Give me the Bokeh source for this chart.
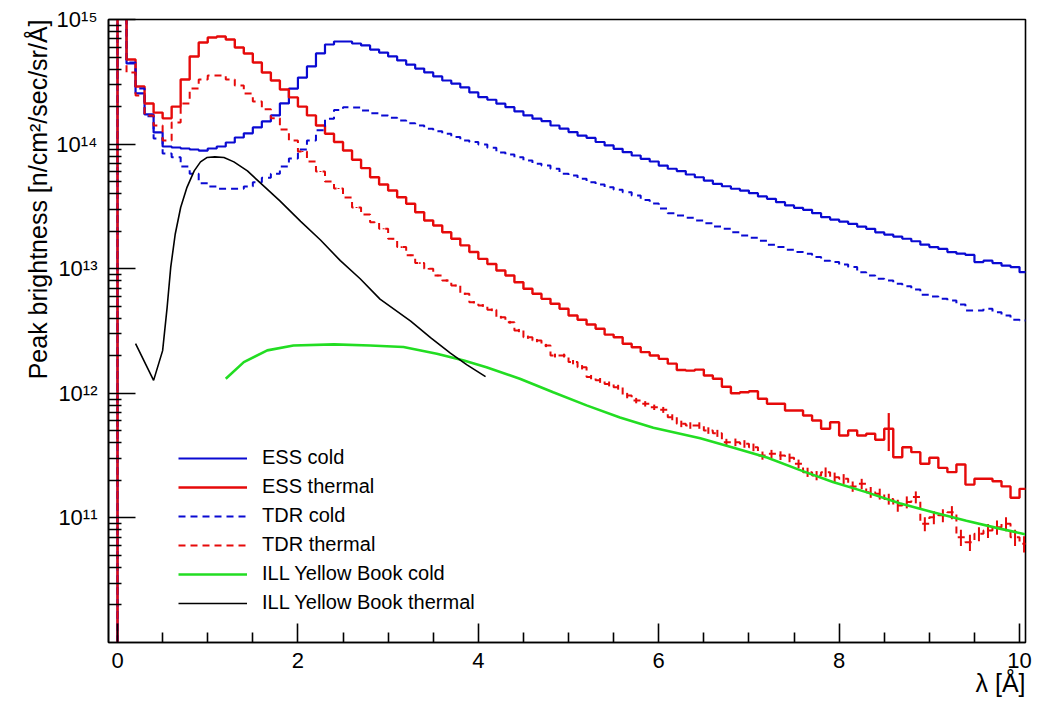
import math
from bokeh.plotting import figure
from bokeh.models import Range1d, FixedTicker, CustomJSTickFormatter, Legend, LegendItem, Title
from bokeh.embed import file_html
from bokeh.resources import INLINE

FONT = "Liberation Sans"

# ---------------- data ----------------
bin_width = 0.1
n_bins = 101          # bins [0.0,0.1], [0.1,0.2], ... , [10.0,10.1]

ess_cold = [
    5e15, 4.44e14, 2.55e14, 1.73e14, 1.24e14, 9.57e13, 9.39e13, 9.22e13, 9.05e13, 8.88e13,
    9.22e13, 9.57e13, 1.03e14, 1.13e14, 1.22e14, 1.36e14, 1.52e14, 1.70e14, 2.12e14, 2.79e14,
    3.42e14, 4.20e14, 5.34e14, 6.30e14, 6.66e14, 6.66e14, 6.42e14, 6.19e14, 5.74e14, 5.43e14,
    5.05e14, 4.69e14, 4.35e14, 4.04e14, 3.76e14, 3.49e14, 3.24e14, 3.06e14, 2.85e14, 2.60e14,
    2.38e14, 2.27e14, 2.11e14, 1.98e14, 1.83e14, 1.70e14, 1.60e14, 1.53e14, 1.41e14, 1.33e14,
    1.25e14, 1.17e14, 1.12e14, 1.04e14, 9.75e13, 9.17e13, 8.61e13, 8.10e13, 7.62e13, 7.25e13,
    6.73e13, 6.34e13, 6.08e13, 5.70e13, 5.42e13, 5.10e13, 4.80e13, 4.59e13, 4.38e13, 4.24e13,
    4.04e13, 3.80e13, 3.64e13, 3.42e13, 3.22e13, 3.08e13, 2.97e13, 2.79e13, 2.59e13, 2.48e13,
    2.39e13, 2.29e13, 2.18e13, 2.09e13, 1.96e13, 1.88e13, 1.81e13, 1.74e13, 1.66e13, 1.56e13,
    1.49e13, 1.44e13, 1.36e13, 1.32e13, 1.29e13, 1.13e13, 1.16e13, 1.11e13, 1.06e13, 1.03e13,
    9.37e12]

ess_thermal = [
    5e15, 4.78e14, 2.90e14, 2.12e14, 1.79e14, 1.61e14, 2.00e14, 3.30e14, 5.05e14, 6.54e14,
    7.17e14, 7.31e14, 6.91e14, 5.96e14, 5.34e14, 4.52e14, 3.76e14, 3.24e14, 2.74e14, 2.37e14,
    2.00e14, 1.70e14, 1.41e14, 1.21e14, 1.04e14, 8.88e13, 7.48e13, 6.41e13, 5.42e13, 4.74e13,
    4.24e13, 3.75e13, 3.32e13, 2.84e13, 2.44e13, 2.22e13, 1.96e13, 1.74e13, 1.54e13, 1.36e13,
    1.20e13, 1.09e13, 9.68e12, 8.82e12, 7.79e12, 6.90e12, 6.29e12, 5.73e12, 5.23e12, 4.77e12,
    4.21e12, 3.89e12, 3.57e12, 3.30e12, 2.96e12, 2.82e12, 2.50e12, 2.34e12, 2.14e12, 2.01e12,
    1.89e12, 1.73e12, 1.54e12, 1.52e12, 1.55e12, 1.39e12, 1.31e12, 1.13e12, 1.00e12, 1.02e12,
    1.04e12, 9.04e11, 8.24e11, 8.24e11, 7.28e11, 7.28e11, 6.64e11, 6.05e11, 5.19e11, 5.86e11,
    4.59e11, 5.03e11, 4.59e11, 4.73e11, 4.24e11, 5.19e11, 3.07e11, 3.69e11, 3.37e11, 2.72e11,
    3.04e11, 2.52e11, 2.33e11, 2.68e11, 1.85e11, 2.06e11, 2.06e11, 1.97e11, 1.79e11, 1.45e11,
    1.71e11]
ess_thermal_err_lambda = [8.55]
ess_thermal_err_value = [1.75e11]

tdr_cold = [
    5e15, 4.52e14, 2.79e14, 1.67e14, 1.11e14, 8.41e13, 7.85e13, 6.61e13, 5.78e13, 4.86e13,
    4.57e13, 4.38e13, 4.38e13, 4.38e13, 4.57e13, 4.95e13, 5.37e13, 5.78e13, 6.61e13, 7.66e13,
    9.05e13, 1.07e14, 1.29e14, 1.60e14, 1.88e14, 1.98e14, 1.97e14, 1.86e14, 1.77e14, 1.70e14,
    1.63e14, 1.55e14, 1.47e14, 1.41e14, 1.33e14, 1.27e14, 1.21e14, 1.14e14, 1.07e14, 1.04e14,
    9.93e13, 9.34e13, 8.57e13, 8.26e13, 7.85e13, 7.39e13, 6.95e13, 6.73e13, 6.34e13, 5.78e13,
    5.60e13, 5.27e13, 4.95e13, 4.74e13, 4.51e13, 4.30e13, 4.11e13, 3.87e13, 3.56e13, 3.34e13,
    3.04e13, 2.79e13, 2.67e13, 2.56e13, 2.44e13, 2.32e13, 2.18e13, 2.09e13, 1.96e13, 1.85e13,
    1.77e13, 1.68e13, 1.56e13, 1.49e13, 1.42e13, 1.36e13, 1.32e13, 1.24e13, 1.16e13, 1.13e13,
    1.08e13, 1.03e13, 9.37e12, 8.82e12, 8.30e12, 8.04e12, 7.57e12, 7.24e12, 6.81e12, 6.17e12,
    5.98e12, 5.73e12, 5.56e12, 5.16e12, 4.62e12, 4.62e12, 4.77e12, 4.48e12, 4.21e12, 3.89e12,
    3.84e12]

tdr_thermal = [
    5e15, 3.76e14, 2.45e14, 1.70e14, 1.41e14, 1.07e14, 1.49e14, 2.12e14, 2.79e14, 3.30e14,
    3.55e14, 3.55e14, 3.30e14, 2.95e14, 2.55e14, 2.20e14, 1.90e14, 1.61e14, 1.31e14, 1.07e14,
    8.72e13, 7.25e13, 6.03e13, 5.01e13, 4.40e13, 3.73e13, 3.10e13, 2.72e13, 2.36e13, 2.09e13,
    1.74e13, 1.49e13, 1.28e13, 1.11e13, 9.98e12, 8.82e12, 8.04e12, 7.33e12, 6.29e12, 5.38e12,
    5.07e12, 4.68e12, 4.08e12, 3.72e12, 3.19e12, 2.82e12, 2.65e12, 2.42e12, 2.01e12, 2.01e12,
    1.78e12, 1.62e12, 1.35e12, 1.27e12, 1.19e12, 1.12e12, 9.60e11, 8.75e11, 8.24e11, 7.73e11,
    7.37e11, 6.43e11, 5.69e11, 5.52e11, 5.52e11, 5.03e11, 4.78e11, 4.05e11, 4.05e11, 3.93e11,
    3.69e11, 3.17e11, 3.27e11, 3.17e11, 3.04e11, 2.72e11, 2.33e11, 2.19e11, 2.33e11, 2.12e11,
    2.06e11, 1.79e11, 1.88e11, 1.61e11, 1.56e11, 1.42e11, 1.26e11, 1.34e11, 1.47e11, 8.97e10,
    1.01e11, 1.05e11, 1.11e11, 7.00e10, 6.38e10, 7.45e10, 7.92e10, 8.42e10, 8.97e10, 7.00e10,
    6.20e10]
# relative statistical errors of the TDR thermal histogram
tdr_thermal_relerr = [
    0, 0, 0, 0, 0, 0, 0, 0, 0, 0,
    0, 0, 0, 0, 0, 0, 0, 0, 0, 0,
    0.01, 0.01, 0.01, 0.01, 0.01, 0.01, 0.01, 0.01, 0.01, 0.01,
    0.015, 0.015, 0.015, 0.015, 0.015, 0.015, 0.02, 0.02, 0.02, 0.02,
    0.025, 0.025, 0.025, 0.025, 0.03, 0.03, 0.03, 0.03, 0.035, 0.035,
    0.04, 0.04, 0.04, 0.045, 0.045, 0.045, 0.05, 0.05, 0.05, 0.05,
    0.055, 0.055, 0.06, 0.06, 0.06, 0.06, 0.065, 0.065, 0.07, 0.07,
    0.07, 0.075, 0.075, 0.08, 0.08, 0.08, 0.085, 0.085, 0.09, 0.09,
    0.09, 0.095, 0.095, 0.10, 0.10, 0.10, 0.11, 0.11, 0.11, 0.13,
    0.12, 0.12, 0.12, 0.15, 0.15, 0.13, 0.13, 0.13, 0.13, 0.15,
    0.15]

ill_thermal_lambda = [0.20, 0.40, 0.50, 0.55, 0.59, 0.64, 0.70, 0.77, 0.85, 0.92, 0.99, 1.08,
                      1.18, 1.29, 1.44, 1.58, 1.80, 2.03, 2.25, 2.47, 2.69, 2.91, 3.25, 3.47,
                      3.69, 3.87, 4.08]
ill_thermal = [2.5e12, 1.27e12, 2.2e12, 4.9e12, 1.03e13, 1.9e13, 3.1e13, 4.5e13, 6.1e13, 7.2e13,
               7.8e13, 7.9e13, 7.8e13, 7.2e13, 6.1e13, 4.9e13, 3.5e13, 2.4e13, 1.7e13, 1.16e13,
               8.3e12, 5.7e12, 3.8e12, 2.8e12, 2.1e12, 1.7e12, 1.36e12]

ill_cold_lambda = [1.20, 1.40, 1.66, 1.95, 2.40, 2.80, 3.17, 3.54, 3.84, 4.09, 4.46, 4.83, 5.20,
                   5.57, 5.94, 6.46, 6.83, 7.20, 7.56, 7.93, 8.30, 8.67, 9.04, 9.41, 9.78, 10.06]
ill_cold = [1.31e12, 1.78e12, 2.21e12, 2.42e12, 2.47e12, 2.42e12, 2.35e12, 2.08e12, 1.83e12,
            1.62e12, 1.31e12, 1.02e12, 8.0e11, 6.4e11, 5.3e11, 4.35e11, 3.65e11, 3.05e11,
            2.43e11, 1.94e11, 1.61e11, 1.31e11, 1.11e11, 9.5e10, 8.2e10, 7.4e10]

x_ticks = [0, 2, 4, 6, 8, 10]
y_ticks = [1e11, 1e12, 1e13, 1e14, 1e15]
legend_labels = ["ESS cold", "ESS thermal", "TDR cold", "TDR thermal",
                 "ILL Yellow Book cold", "ILL Yellow Book thermal"]
x_title = "\u03bb [\u00c5]"
y_title = "Peak brightness [n/cm\u00b2/sec/sr/\u00c5]"

# ---------------- styles ----------------
BLUE = "#0a0ad2"
RED = "#e60a0a"
GREEN = "#22dd22"
X_MIN, X_MAX = -0.1, 10.066
Y_MIN, Y_MAX = 1e10, 1e15

edges = [round(i * bin_width, 4) for i in range(n_bins + 1)]
centers = [round((i + 0.5) * bin_width, 4) for i in range(n_bins)]


def hist_path(values):
    xs, ys = [edges[0]], [Y_MIN]
    for i, v in enumerate(values):
        xs += [edges[i], edges[i + 1]]
        ys += [v, v]
    return xs, ys


p = figure(width=1040, height=701, output_backend="svg", toolbar_location=None,
           x_range=Range1d(X_MIN, X_MAX), y_range=Range1d(Y_MIN, Y_MAX), y_axis_type="log",
           min_border_left=108, min_border_right=15, min_border_top=19, min_border_bottom=59)
p.background_fill_color = "white"
p.border_fill_color = "white"
p.outline_line_color = "black"
p.outline_line_width = 1.6
p.outline_line_alpha = 1.0
p.xgrid.visible = False
p.ygrid.visible = False

r_ess_cold = p.line(*hist_path(ess_cold), line_color=BLUE, line_width=2.2)
r_ess_thermal = p.line(*hist_path(ess_thermal), line_color=RED, line_width=2.4)
p.segment(x0=ess_thermal_err_lambda, x1=ess_thermal_err_lambda,
          y0=[ess_thermal[int(l / bin_width)] - e for l, e in zip(ess_thermal_err_lambda, ess_thermal_err_value)],
          y1=[ess_thermal[int(l / bin_width)] + e for l, e in zip(ess_thermal_err_lambda, ess_thermal_err_value)],
          line_color=RED, line_width=2.2)
r_tdr_cold = p.line(*hist_path(tdr_cold), line_color=BLUE, line_width=2.0, line_dash="7 5")
r_tdr_thermal = p.line(*hist_path(tdr_thermal), line_color=RED, line_width=2.0, line_dash="7 5")
err_x, err_lo, err_hi = [], [], []
for c, v, e in zip(centers, tdr_thermal, tdr_thermal_relerr):
    if e > 0:
        err_x.append(c)
        err_lo.append(v * (1 - e))
        err_hi.append(v * (1 + e))
p.segment(x0=err_x, x1=err_x, y0=err_lo, y1=err_hi, line_color=RED, line_width=2.0)
r_ill_cold = p.line(ill_cold_lambda, ill_cold, line_color=GREEN, line_width=2.6)
r_ill_thermal = p.line(ill_thermal_lambda, ill_thermal, line_color="black", line_width=1.6)

# axes
xa = p.xaxis[0]
ya = p.yaxis[0]
xa.ticker = FixedTicker(ticks=x_ticks, minor_ticks=[k * 0.5 for k in range(21) if k % 4])
ya.ticker = FixedTicker(ticks=y_ticks,
                        minor_ticks=[m * 10.0 ** e for e in range(10, 15) for m in range(2, 10)])
ya.formatter = CustomJSTickFormatter(code="""
const sup = {"0":"\u2070","1":"\u00b9","2":"\u00b2","3":"\u00b3","4":"\u2074","5":"\u2075",
             "6":"\u2076","7":"\u2077","8":"\u2078","9":"\u2079","-":"\u207b"};
const e = Math.round(Math.log10(tick));
return "10" + String(e).split("").map(c => sup[c]).join("");
""")
for ax in (xa, ya):
    ax.major_tick_out = 0
    ax.minor_tick_out = 0
    ax.axis_line_color = "black"
    ax.axis_line_width = 1.6
    ax.major_tick_line_color = "black"
    ax.minor_tick_line_color = "black"
    ax.major_tick_line_width = 1.6
    ax.minor_tick_line_width = 1.6
    ax.major_label_text_font = FONT
    ax.major_label_text_font_size = "22px"
    ax.major_label_text_color = "black"
xa.major_tick_in = 19
xa.minor_tick_in = 10
xa.major_label_standoff = 10
ya.major_tick_in = 27
ya.minor_tick_in = 13
ya.major_label_standoff = 11

# axis titles (right / top aligned like the original)
p.add_layout(Title(text=x_title, align="right", text_font=FONT, text_font_size="25px",
                   text_font_style="normal", text_color="black", standoff=-7), "below")
p.add_layout(Title(text=y_title, align="right", text_font=FONT, text_font_size="25px",
                   text_font_style="normal", text_color="black", standoff=3), "left")

legend = Legend(items=[LegendItem(label=l, renderers=[r]) for l, r in zip(
    legend_labels, [r_ess_cold, r_ess_thermal, r_tdr_cold, r_tdr_thermal, r_ill_cold, r_ill_thermal])],
    location=(70, 28), border_line_color=None, background_fill_alpha=0.0,
    padding=0, margin=0, spacing=6, glyph_width=69, glyph_height=18, label_height=18,
    label_standoff=15, label_text_font=FONT, label_text_font_size="20px",
    label_text_color="black")
p.add_layout(legend)

open("out.html", "w").write(file_html(p, INLINE))
